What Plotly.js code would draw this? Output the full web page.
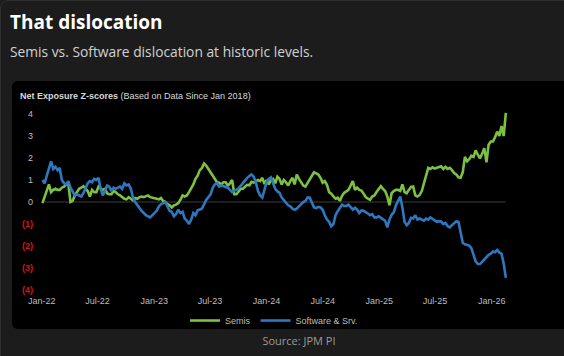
<!DOCTYPE html>
<html>
<head>
<meta charset="utf-8">
<script src="https://cdn.plot.ly/plotly-3.0.1.min.js"></script>
<style>
  html, body { margin: 0; padding: 0; }
  body { width: 564px; height: 356px; overflow: hidden; position: relative; background: #1c1c1c; }
  #card { position: absolute; left: 0; top: 0; width: 572px; height: 372px; border: 1px solid #2e2e2e; border-radius: 8px; box-sizing: border-box; }
  #title { position: absolute; left: 10px; top: 13px; font: 700 19px/19px 'Open Sans', sans-serif; color: #ffffff; white-space: nowrap; }
  #subtitle { position: absolute; left: 10px; top: 45px; font: 400 13.8px/14px 'Open Sans', sans-serif; color: #d2d2d2; white-space: nowrap; }
  #panel { position: absolute; left: 12px; top: 81px; width: 570px; height: 248px; background: #000000; border-radius: 6px; }
  #chart { position: absolute; left: 0; top: 0; width: 564px; height: 356px; }
  #source { position: absolute; left: 0; width: 598px; top: 335px; text-align: center; font: 400 11px/11px 'Open Sans', sans-serif; color: #9a9a9a; }
</style>
</head>
<body>
<div id="card"></div>
<div id="title">That dislocation</div>
<div id="subtitle">Semis vs. Software dislocation at historic levels.</div>
<div id="panel"></div>
<div id="chart"></div>
<div id="source">Source: JPM PI</div>
<script>
// Weekly observations, first week starting 2022-01-03
const startDate = '2022-01-03';
const seriesNames = ['Semis', 'Software & Srv.'];

const semis = [
  -0.05, 0.25, 0.6, 0.8, 0.45, 0.55, 0.6, 0.55, 0.55, 0.65,
  0.7, 0.8, 0.85, 0.0, 0.05, 0.3, 0.45, 0.6, 0.65, 0.72,
  0.6, 0.5, 0.25, 0.55, 0.45, 0.45, 0.7, 0.6, 0.55, 0.6,
  0.4, 0.35, 0.35, 0.5, 0.45, 0.35, 0.3, 0.22, 0.15, 0.12,
  0.22, 0.15, 0.08, 0.18, 0.15, 0.22, 0.25, 0.22, 0.28, 0.3,
  0.22, 0.2, 0.2, 0.15, 0.12, 0.18, 0.05, 0.0, -0.1, -0.15,
  -0.25, -0.15, -0.12, -0.05, 0.1, 0.3, 0.25, 0.3, 0.45, 0.6,
  0.8, 1.05, 1.2, 1.45, 1.55, 1.75, 1.65, 1.5, 1.35, 1.2,
  1.0, 0.9, 0.88, 0.8, 0.9, 0.9, 0.75, 0.85, 1.0, 0.35,
  0.35, 0.5, 0.6, 0.6, 0.7, 0.78, 0.76, 0.92, 0.88, 0.95,
  1.0, 0.95, 1.1, 0.82, 1.0, 0.8, 1.0, 1.05, 0.85, 1.15,
  1.05, 0.8, 1.0, 0.9, 0.75, 0.95, 1.1, 0.8, 1.25, 1.05,
  0.9, 0.75, 0.7, 0.85, 1.05, 1.2, 1.35, 1.3, 1.25, 1.1,
  0.88, 0.95, 0.78, 0.45, 0.38, 0.25, 0.15, 0.2, 0.05, 0.28,
  0.42, 0.48, 0.55, 0.75, 0.95, 0.55, 0.65, 0.55, 0.52, 0.38,
  0.22, 0.15, 0.1, 0.25, 0.3, 0.45, 0.6, 0.72, 0.6, 0.5,
  0.25, -0.15, 0.4, 0.5, 0.55, 0.55, 0.5, 0.8, 0.45, 0.4,
  0.55, 0.68, 0.7, 0.3, 0.25, 0.32, 0.5, 0.85, 1.25, 1.55,
  1.5, 1.58, 1.52, 1.55, 1.6, 1.62, 1.5, 1.6, 1.5, 1.55,
  1.45, 1.32, 1.25, 1.12, 1.1, 1.35, 2.05, 1.85, 1.95, 2.1,
  2.05, 2.35, 2.15, 1.98, 2.2, 2.45, 1.8, 2.6, 2.75, 2.75,
  2.95, 3.2, 3.0, 3.45, 3.0, 4.05
];

const software = [
  1.0, 0.85, 1.2, 1.55, 1.85, 1.5, 1.6, 1.45, 1.55, 1.0,
  0.85, 0.8, 0.95, 0.65, 0.45, 0.3, 0.35, 0.28, 0.25, 0.4,
  0.6, 0.85, 0.95, 0.9, 1.05, 1.0, 1.1, 0.6, 0.3, 0.5,
  0.75, 0.7, 0.5, 0.65, 0.6, 0.65, 0.7, 0.6, 0.85, 0.75,
  0.8, 0.6, 0.2, 0.0, -0.15, -0.3, -0.4, -0.5, -0.6, -0.65,
  -0.7, -0.6, -0.5, -0.4, -0.2, -0.1, -0.05, 0.0, -0.2, -0.4,
  -0.45, -0.65, -0.55, -0.35, -0.5, -0.45, -0.75, -0.85, -1.0, -0.8,
  -0.5, -0.6, -0.38, -0.35, -0.3, -0.1, 0.1, 0.22, 0.35, 0.65,
  0.8, 0.85, 0.7, 0.75, 0.72, 0.7, 0.65, 0.55, 0.45, 0.52,
  0.55, 0.62, 0.75, 0.85, 1.0, 1.1, 1.18, 1.25, 1.15, 0.9,
  0.5, 0.3, 0.2, 0.6, 0.9, 1.05, 1.12, 0.85, 0.6, 0.48,
  0.42, 0.2, 0.08, -0.05, -0.15, -0.2, -0.3, -0.35, -0.3, -0.2,
  -0.1, 0.0, 0.05, 0.2, 0.2, 0.0, -0.25, -0.28, -0.22, -0.25,
  -0.35, -0.6, -0.8, -0.9, -1.1, -1.0, -0.6, -0.42, -0.28, -0.12,
  -0.18, -0.18, -0.12, -0.22, -0.35, -0.26, -0.35, -0.5, -0.38, -0.4,
  -0.45, -0.52, -0.6, -0.55, -0.7, -0.7, -0.65, -0.72, -0.78, -0.85,
  -1.15, -0.8, -0.58, -0.47, -0.15, 0.05, 0.25, -0.25, -0.9, -1.05,
  -0.95, -0.72, -0.75, -0.6, -0.8, -0.75, -0.8, -0.85, -0.75, -0.8,
  -0.7, -0.78, -0.82, -0.9, -0.87, -0.88, -1.0, -0.95, -1.1, -1.15,
  -1.05, -0.95, -0.88, -0.9, -1.4, -1.85, -1.92, -1.95, -1.98, -2.1,
  -2.45, -2.7, -2.82, -2.82, -2.72, -2.6, -2.47, -2.4, -2.35, -2.25,
  -2.28, -2.18, -2.3, -2.35, -2.8, -3.45
];

const yTickValues = [4, 3, 2, 1, 0, -1, -2, -3, -4];
const yTickLabels = ['4', '3', '2', '1', '0', '(1)', '(2)', '(3)', '(4)'];

// weekly date axis
const dates = semis.map((_, i) => {
  const d = new Date(startDate + 'T00:00:00Z');
  d.setUTCDate(d.getUTCDate() + 7 * i);
  return d.toISOString().slice(0, 10);
});

const GREEN = '#7dc142';
const BLUE = '#2f78c0';
const TXT = '#bdbdbd';
const RED = '#d41515';

const ticktext = yTickLabels.map((t, i) =>
  yTickValues[i] < 0 ? '<span style="color:' + RED + ';font-weight:bold">' + t + '</span>' : t);

const traces = [
  { x: dates, y: semis, name: seriesNames[0], type: 'scatter', mode: 'lines',
    line: { color: GREEN, width: 2.6 } },
  { x: dates, y: software, name: seriesNames[1], type: 'scatter', mode: 'lines',
    line: { color: BLUE, width: 2.6 } }
];

const layout = {
  width: 564, height: 356,
  margin: { l: 36, r: 52, t: 105, b: 66, pad: 0 },
  paper_bgcolor: 'rgba(0,0,0,0)',
  plot_bgcolor: 'rgba(0,0,0,0)',
  font: { family: 'Liberation Sans, Arial, sans-serif', size: 9, color: TXT },
  title: {
    text: '<b>Net Exposure Z-scores</b> (Based on Data Since Jan 2018)',
    font: { family: 'Liberation Sans, Arial, sans-serif', size: 9, color: '#d9d9d9' },
    x: 20 / 564, xref: 'container', xanchor: 'left',
    y: 1 - 95.5 / 356, yref: 'container', yanchor: 'middle'
  },
  xaxis: {
    type: 'date',
    range: ['2021-12-13', '2026-03-08'],
    tick0: '2022-01-01', dtick: 'M6', tickformat: '%b-%y',
    showgrid: false, zeroline: false, showline: false,
    ticks: '', tickfont: { size: 9, color: TXT },
    ticklabelstandoff: 4
  },
  yaxis: {
    range: [-4, 4.41],
    tickvals: yTickValues, ticktext: ticktext,
    showgrid: false, zeroline: false, showline: false,
    ticks: '', tickfont: { size: 9, color: TXT },
    ticklabelstandoff: 2
  },
  shapes: [
    { type: 'line', xref: 'x', yref: 'y', x0: dates[1], x1: dates[dates.length - 1], y0: 0, y1: 0,
      line: { color: '#3c3c3c', width: 1 }, layer: 'below' }
  ],
  showlegend: true,
  legend: {
    orientation: 'h', x: 0.5, xanchor: 'center', y: -0.165, yanchor: 'middle',
    font: { size: 9, color: TXT }, bgcolor: 'rgba(0,0,0,0)', itemwidth: 30
  }
};

Plotly.newPlot('chart', traces, layout, { displayModeBar: false, staticPlot: true });
</script>
</body>
</html>
